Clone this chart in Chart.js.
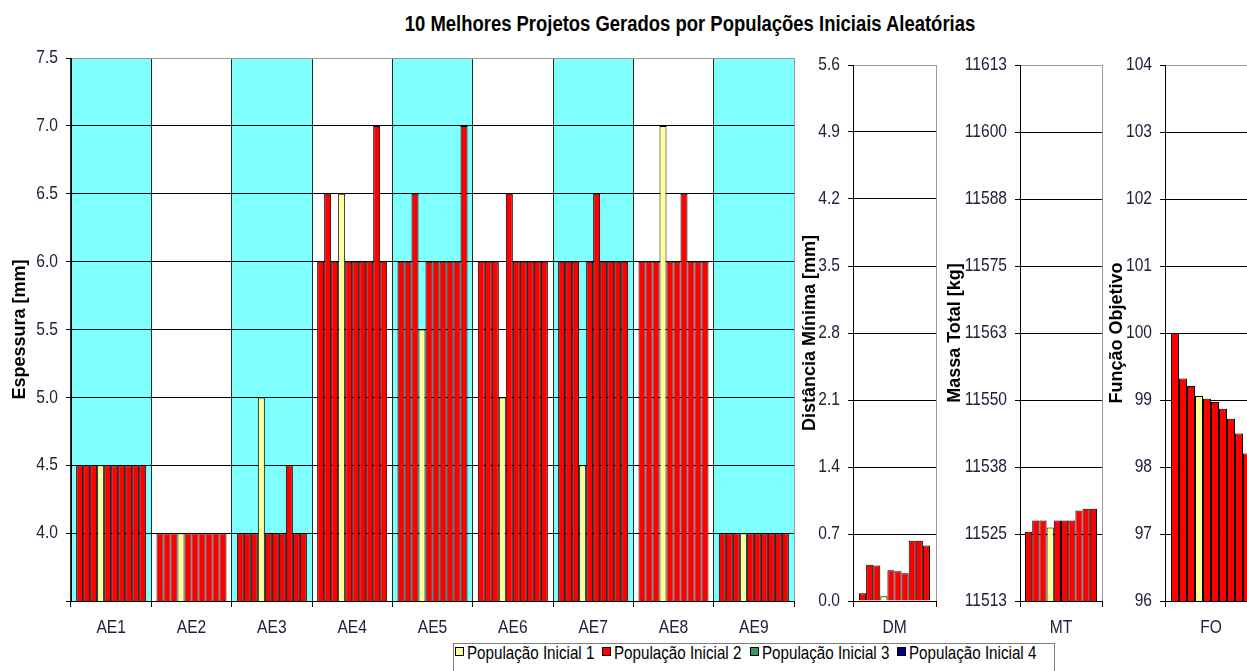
<!DOCTYPE html>
<html>
<head>
<meta charset="utf-8">
<title>10 Melhores Projetos Gerados por Populações Iniciais Aleatórias</title>
<script src="https://cdn.jsdelivr.net/npm/chart.js@4.4.1/dist/chart.umd.min.js"></script>
<style>
  html, body { margin: 0; padding: 0; background: #fff; }
  #fig { position: relative; width: 1247px; height: 671px; overflow: hidden; background: #fff; }
  #fig canvas { position: absolute; top: 0; }
  #title {
    position: absolute; top: 11px; left: 690px;
    transform: translateX(-50%) scaleX(0.82); transform-origin: 50% 50%;
    font: bold 22.5px 'Liberation Sans', Arial, sans-serif;
    color: #000; white-space: nowrap;
  }
  #legend {
    position: absolute; left: 453px; top: 643px; width: 602px; height: 40px;
    box-sizing: border-box; border: 1px solid #7f7f7f; background: #fff;
  }
  #legend .mk {
    position: absolute; top: 3px; width: 9px; height: 9px; box-sizing: border-box;
    border: 1px solid #000;
  }
  #legend .tx {
    position: absolute; top: 0; transform: scaleX(0.82); transform-origin: 0 0;
    font: 18.5px 'Liberation Sans', Arial, sans-serif; line-height: 18px;
    color: #000; white-space: nowrap;
  }
</style>
</head>
<body>
<div id="fig">
  <div id="title">10 Melhores Projetos Gerados por Populações Iniciais Aleatórias</div>
  <div id="legend"></div>
</div>
<script>
// ---- data ----
const categories = ['AE1', 'AE2', 'AE3', 'AE4', 'AE5', 'AE6', 'AE7', 'AE8', 'AE9'];

// thickness of each element for the 10 best designs (design 1 .. design 10)
const espAE1 = [4.5, 4.5, 4.5, 4.5, 4.5, 4.5, 4.5, 4.5, 4.5, 4.5];
const espAE2 = [4.0, 4.0, 4.0, 4.0, 4.0, 4.0, 4.0, 4.0, 4.0, 4.0];
const espAE3 = [4.0, 4.0, 4.0, 5.0, 4.0, 4.0, 4.0, 4.5, 4.0, 4.0];
const espAE4 = [6.0, 6.5, 6.0, 6.5, 6.0, 6.0, 6.0, 6.0, 7.0, 6.0];
const espAE5 = [6.0, 6.0, 6.5, 5.5, 6.0, 6.0, 6.0, 6.0, 6.0, 7.0];
const espAE6 = [6.0, 6.0, 6.0, 5.0, 6.5, 6.0, 6.0, 6.0, 6.0, 6.0];
const espAE7 = [6.0, 6.0, 6.0, 4.5, 6.0, 6.5, 6.0, 6.0, 6.0, 6.0];
const espAE8 = [6.0, 6.0, 6.0, 7.0, 6.0, 6.0, 6.5, 6.0, 6.0, 6.0];
const espAE9 = [4.0, 4.0, 4.0, 4.0, 4.0, 4.0, 4.0, 4.0, 4.0, 4.0];

const distanciaMinima = [0.08, 0.38, 0.37, 0.05, 0.32, 0.31, 0.29, 0.63, 0.63, 0.58];
const massaTotal = [11525.4, 11527.5, 11527.5, 11526.2, 11527.5, 11527.5, 11527.5, 11529.4, 11529.7, 11529.7];
const funcaoObjetivo = [100.0, 99.32, 99.21, 99.06, 99.02, 98.97, 98.87, 98.72, 98.50, 98.20];

// initial population each design came from (1..4)
const designPopulation = [2, 2, 2, 1, 2, 2, 2, 2, 2, 2];

const populations = ['População Inicial 1', 'População Inicial 2', 'População Inicial 3', 'População Inicial 4'];
const populationColors = ['#FFFF99', '#FF0000', '#339966', '#000080'];

const espTicks = { min: 3.5, max: 7.5, step: 0.5 };
const dmTicks = { min: 0, max: 5.6, step: 0.7 };
const mtTicks = { min: 11512.5, max: 11612.5, step: 12.5 };
const foTicks = { min: 96, max: 104, step: 1 };

// ---- styling ----
const SANS = "'Liberation Sans', Arial, sans-serif";
const TICK_COLOR = '#20203a';
const BAND_COLOR = '#80FFFF';
const CONDENSE = 0.82;   // horizontal text squeeze for upright labels
const H = 671;

// upright text is drawn horizontally condensed; rotated titles keep normal width
function condenseText(ctx, factor) {
  const fill = ctx.fillText.bind(ctx);
  ctx.fillText = function (text, x, y, maxWidth) {
    const m = this.getTransform();
    if (Math.abs(m.b) > 1e-6 || Math.abs(m.c) > 1e-6) {
      return maxWidth === undefined ? fill(text, x, y) : fill(text, x, y, maxWidth);
    }
    this.save();
    this.translate(x, y);
    this.scale(factor, 1);
    if (maxWidth === undefined) fill(text, 0, 0); else fill(text, 0, 0, maxWidth / factor);
    this.restore();
  };
}

// alternating cyan bands behind the categories
const bandPlugin = {
  id: 'bands',
  beforeDraw(chart, args, opts) {
    if (!opts || !opts.fill) return;
    const { ctx, chartArea, scales: { x } } = chart;
    const n = x.getLabels().length;
    const bw = chartArea.width / n;
    ctx.save();
    ctx.fillStyle = opts.fill;
    for (let i = 0; i < n; i += 2) {
      const c = x.getPixelForValue(i);
      const l = Math.round(c - bw / 2), r = Math.round(c + bw / 2);
      ctx.fillRect(l, chartArea.top, r - l, chartArea.bottom - chartArea.top);
    }
    ctx.restore();
  }
};

const fig = document.getElementById('fig');

function makePanel(p) {
  const canvas = document.createElement('canvas');
  canvas.width = p.width;
  canvas.height = H;
  canvas.style.left = p.left + 'px';
  canvas.style.width = p.width + 'px';
  canvas.style.height = H + 'px';
  fig.appendChild(canvas);
  condenseText(canvas.getContext('2d'), CONDENSE);

  const datasets = designPopulation.map((pop, j) => ({
    label: 'Projeto ' + (j + 1),
    data: p.values(j),
    backgroundColor: populationColors[pop - 1],
    borderColor: '#000',
    borderWidth: 1,
    borderSkipped: 'start',
    barPercentage: 1.0,
    categoryPercentage: p.catPct
  }));

  const t = p.ticks;
  return new Chart(canvas, {
    type: 'bar',
    data: { labels: p.labels, datasets },
    plugins: [bandPlugin],
    options: {
      responsive: false,
      animation: false,
      events: [],
      layout: { padding: { top: p.top, right: p.padRight, bottom: 0, left: 0 } },
      plugins: {
        legend: { display: false },
        tooltip: { enabled: false },
        bands: { fill: p.bands ? BAND_COLOR : null }
      },
      scales: {
        x: {
          type: 'category',
          offset: true,
          grid: {
            offset: true,
            drawOnChartArea: true,
            lineWidth: 1,
            color: (c) => c.type === 'scale' ? '#9a9a9a' : '#2a2a2a',
            tickColor: '#000',
            tickLength: 6
          },
          border: { color: '#000', width: 1 },
          ticks: {
            font: { family: SANS, size: 19 },
            color: TICK_COLOR,
            padding: 9,
            maxRotation: 0,
            autoSkip: false
          },
          afterFit: (s) => { s.height = 70; }
        },
        y: {
          min: t.min,
          max: t.max,
          grid: {
            lineWidth: 1,
            color: (c) => (c.tick && Math.abs(c.tick.value - t.max) < 1e-9) ? '#9a9a9a' : '#000',
            tickColor: '#000',
            tickLength: 5
          },
          border: { color: '#000', width: 1 },
          ticks: {
            stepSize: t.step,
            font: { family: SANS, size: 19 },
            color: TICK_COLOR,
            padding: 8,
            callback: p.fmt
          },
          title: {
            display: true,
            text: p.yTitle,
            font: { family: SANS, size: 18, weight: 'bold' },
            color: '#000',
            padding: { top: p.titlePad, bottom: 0 }
          },
          afterFit: (s) => { s.width = p.axisWidth; }
        }
      }
    }
  });
}

const espRows = [espAE1, espAE2, espAE3, espAE4, espAE5, espAE6, espAE7, espAE8, espAE9];

// thickness per element
makePanel({
  left: 0, width: 800, top: 58, padRight: 6, axisWidth: 71, titlePad: 9,
  labels: categories, catPct: 0.872, bands: true,
  values: (j) => espRows.map(r => r[j]),
  ticks: espTicks,
  fmt: (v) => Math.abs(v - espTicks.min) < 1e-9 ? '' : Number(v).toFixed(1),
  yTitle: 'Espessura [mm]'
});

// minimum distance
makePanel({
  left: 797, width: 143, top: 65, padRight: 4, axisWidth: 56, titlePad: 2,
  labels: ['DM'], catPct: 0.855, bands: false,
  values: (j) => [distanciaMinima[j]],
  ticks: dmTicks,
  fmt: (v) => Number(v).toFixed(1),
  yTitle: 'Distância Mínima [mm]'
});

// total mass
makePanel({
  left: 942, width: 164, top: 65, padRight: 4, axisWidth: 78, titlePad: 2,
  labels: ['MT'], catPct: 0.878, bands: false,
  values: (j) => [massaTotal[j]],
  ticks: mtTicks,
  fmt: (v) => String(Math.round(v)),
  yTitle: 'Massa Total [kg]'
});

// objective function
makePanel({
  left: 1104, width: 157, top: 65, padRight: 4, axisWidth: 61, titlePad: 2,
  labels: ['FO'], catPct: 0.87, bands: false,
  values: (j) => [funcaoObjetivo[j]],
  ticks: foTicks,
  fmt: (v) => String(Math.round(v)),
  yTitle: 'Função Objetivo'
});

// legend of initial populations
const legend = document.getElementById('legend');
const LEGEND_STEP = 147.3;
populations.forEach((name, i) => {
  const x0 = Math.round(1 + i * LEGEND_STEP);
  const mk = document.createElement('span');
  mk.className = 'mk';
  mk.style.left = x0 + 'px';
  mk.style.background = populationColors[i];
  legend.appendChild(mk);
  const tx = document.createElement('span');
  tx.className = 'tx';
  tx.style.left = (x0 + 12) + 'px';
  tx.textContent = name;
  legend.appendChild(tx);
});
</script>
</body>
</html>
